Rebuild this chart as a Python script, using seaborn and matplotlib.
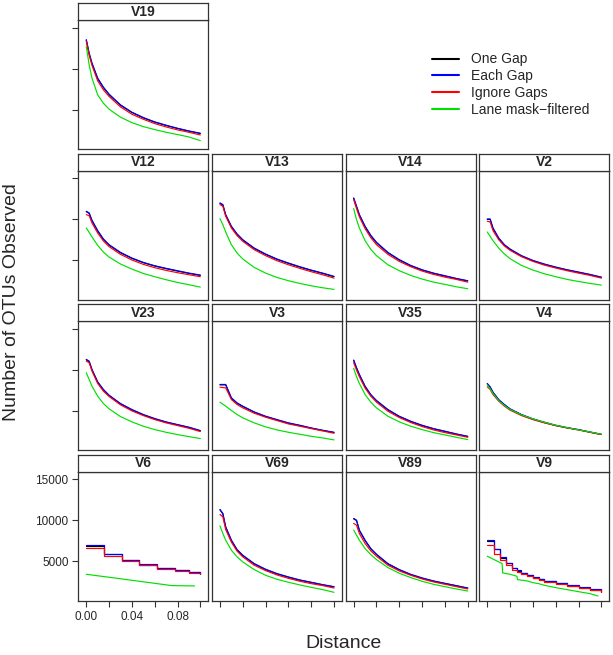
import numpy as np
import pandas as pd
import matplotlib
matplotlib.use("Agg")
import matplotlib.pyplot as plt
from matplotlib.lines import Line2D
import seaborn as sns

# ---- data ----
METHODS = ["One Gap", "Each Gap", "Ignore Gaps", "Lane mask\u2212filtered"]
COLORS = ["black", "#0000FF", "#FF0000", "#00E000"]

LAYOUT = [["V19"],
          ["V12", "V13", "V14", "V2"],
          ["V23", "V3", "V35", "V4"],
          ["V6", "V69", "V89", "V9"]]

DIST = [0.0, 0.0025, 0.005, 0.01, 0.015, 0.02, 0.03, 0.04, 0.05, 0.06, 0.07, 0.08, 0.09, 0.10]

ONE_GAP = {
    "V19": [13480, 11820, 10600, 8770, 7680, 6820, 5520, 4630, 3980, 3450, 3050, 2680, 2350, 2070],
    "V12": [10900, 10700, 9800, 8540, 7520, 6820, 5880, 5200, 4670, 4260, 3940, 3650, 3370, 3120],
    "V13": [11920, 11720, 10490, 9070, 8130, 7430, 6420, 5690, 5080, 4590, 4140, 3730, 3370, 2960],
    "V14": [12530, 11510, 10490, 9070, 7960, 7110, 5890, 5000, 4300, 3770, 3370, 3040, 2720, 2430],
    "V2": [9960, 9960, 8860, 7640, 6820, 6300, 5490, 4910, 4470, 4100, 3780, 3490, 3210, 2880],
    "V23": [11190, 10980, 9960, 8450, 7520, 6820, 5810, 5080, 4470, 3980, 3570, 3250, 2930, 2520],
    "V3": [8130, 8130, 8130, 6500, 5880, 5490, 4790, 4260, 3850, 3450, 3160, 2840, 2560, 2310],
    "V35": [11110, 10170, 9350, 7920, 6900, 6180, 5080, 4260, 3650, 3160, 2760, 2440, 2110, 1820],
    "V4": [8250, 7840, 7190, 6300, 5690, 5160, 4470, 3940, 3530, 3160, 2880, 2640, 2350, 2070],
    "V69": [11270, 10780, 9150, 7520, 6380, 5690, 4670, 3980, 3450, 3040, 2680, 2400, 2110, 1860],
    "V89": [10170, 9960, 8740, 7520, 6500, 5810, 4670, 3940, 3360, 2920, 2560, 2270, 1990, 1700],
    "V6": [6870, 5850, 5120, 4590, 4180, 3940, 3650, 3450],
    "V9": [7490, 6430, 5450, 4730, 4160, 3840, 3560, 3280, 3000, 2790, 2590, 2300, 2020, 1780, 1540, 1290],
}
EACH_GAP = {
    "V19": [13520, 11890, 10670, 8830, 7730, 6870, 5570, 4670, 4020, 3490, 3080, 2710, 2380, 2100],
    "V12": [10950, 10750, 9850, 8590, 7570, 6870, 5930, 5240, 4710, 4300, 3980, 3690, 3400, 3160],
    "V13": [11970, 11770, 10540, 9120, 8180, 7480, 6460, 5730, 5120, 4630, 4180, 3770, 3400, 3000],
    "V14": [12580, 11560, 10540, 9120, 8010, 7160, 5930, 5040, 4340, 3810, 3400, 3080, 2750, 2470],
    "V2": [10010, 10010, 8910, 7690, 6870, 6340, 5530, 4950, 4510, 4140, 3810, 3530, 3240, 2910],
    "V23": [11240, 11030, 10010, 8500, 7570, 6870, 5850, 5120, 4510, 4020, 3610, 3280, 2960, 2550],
    "V3": [8180, 8180, 8180, 6550, 5930, 5530, 4830, 4300, 3890, 3490, 3200, 2870, 2590, 2340],
    "V35": [11160, 10220, 9400, 7970, 6950, 6220, 5120, 4300, 3690, 3200, 2790, 2470, 2140, 1850],
    "V4": [8300, 7890, 7240, 6340, 5730, 5200, 4510, 3980, 3570, 3200, 2910, 2670, 2380, 2100],
    "V69": [11320, 10830, 9200, 7570, 6420, 5730, 4710, 4020, 3490, 3080, 2710, 2430, 2140, 1890],
    "V89": [10220, 10010, 8790, 7570, 6550, 5850, 4710, 3980, 3400, 2960, 2590, 2300, 2020, 1730],
    "V6": [6950, 5930, 5200, 4630, 4220, 3980, 3690, 3490],
    "V9": [7570, 6510, 5530, 4790, 4220, 3890, 3610, 3320, 3040, 2830, 2630, 2340, 2060, 1810, 1570, 1320],
}
IGNORE_GAPS = {
    "V19": [13320, 11650, 10380, 8500, 7400, 6590, 5320, 4420, 3810, 3280, 2870, 2510, 2220, 1890],
    "V12": [10540, 10420, 9520, 8300, 7320, 6630, 5690, 5000, 4470, 4060, 3730, 3450, 3200, 2960],
    "V13": [11770, 11560, 10340, 8910, 7970, 7280, 6260, 5530, 4910, 4420, 3980, 3570, 3200, 2790],
    "V14": [12380, 11280, 10260, 8830, 7730, 6870, 5690, 4830, 4180, 3650, 3240, 2910, 2630, 2300],
    "V2": [9730, 9650, 8590, 7480, 6710, 6180, 5400, 4830, 4380, 4020, 3690, 3400, 3120, 2790],
    "V23": [11030, 10830, 9810, 8300, 7360, 6710, 5690, 4950, 4380, 3890, 3490, 3160, 2830, 2430],
    "V3": [7850, 7800, 7770, 6340, 5730, 5320, 4670, 4180, 3770, 3360, 3080, 2790, 2510, 2220],
    "V35": [10830, 9930, 9120, 7730, 6750, 6020, 4910, 4140, 3530, 3040, 2630, 2300, 2020, 1730],
    "V4": [7890, 7570, 6950, 6140, 5530, 5040, 4380, 3890, 3490, 3160, 2870, 2630, 2340, 2060],
    "V69": [10710, 10420, 8870, 7320, 6220, 5530, 4510, 3850, 3320, 2910, 2550, 2260, 2020, 1730],
    "V89": [9610, 9400, 8380, 7160, 6260, 5610, 4510, 3810, 3280, 2830, 2470, 2180, 1890, 1610],
    "V6": [6590, 5690, 5040, 4510, 4100, 3850, 3610, 3400],
    "V9": [6950, 5930, 5120, 4510, 3980, 3690, 3400, 3160, 2910, 2710, 2510, 2220, 1940, 1690, 1450, 1200],
}
LANE_MASK = {
    "V19": [12700, 10460, 8830, 6790, 5770, 5040, 4060, 3400, 2910, 2550, 2220, 1940, 1650, 1200],
    "V12": [8910, 8380, 7810, 6790, 5970, 5360, 4510, 3890, 3360, 2960, 2590, 2260, 1980, 1690],
    "V13": [10050, 9320, 8420, 6870, 5850, 5120, 4100, 3400, 2870, 2470, 2140, 1850, 1610, 1410],
    "V14": [11280, 9930, 8910, 7360, 6300, 5530, 4420, 3690, 3120, 2670, 2300, 2020, 1730, 1490],
    "V2": [8420, 7890, 7360, 6460, 5730, 5160, 4340, 3770, 3320, 2960, 2630, 2380, 2140, 1940],
    "V23": [9610, 8790, 7970, 6750, 5850, 5200, 4260, 3610, 3080, 2670, 2340, 2060, 1810, 1570],
    "V3": [6020, 5770, 5530, 5000, 4510, 4100, 3490, 3000, 2630, 2340, 2100, 1850, 1650, 1410],
    "V35": [10140, 9120, 8300, 6950, 6020, 5320, 4300, 3610, 3080, 2670, 2300, 2020, 1730, 1450],
    "V4": [8140, 7650, 7080, 6220, 5610, 5120, 4470, 3980, 3570, 3200, 2910, 2630, 2380, 2100],
    "V69": [9320, 8380, 7570, 6340, 5530, 4910, 3980, 3280, 2790, 2430, 2100, 1810, 1530, 1200],
    "V89": [8790, 8180, 7570, 6550, 5810, 5200, 4220, 3530, 3000, 2550, 2180, 1890, 1610, 1360],
    "V6": [3400, 3040, 2670, 2300, 2020, 1980],
    "V9": [5610, 4710, 3570, 3400, 3160, 2750, 2590, 2380, 2260, 2060, 1770, 1530, 1280, 1040, 750],
}

# panels whose gap curves are drawn as steps, with their own distances
STEP_DIST = {
    "V6": [0.0, 0.0155, 0.031, 0.046, 0.062, 0.078, 0.090, 0.100],
    "V9": [0.0, 0.0056, 0.0109, 0.0168, 0.0218, 0.0262, 0.03, 0.035, 0.04, 0.045,
           0.05, 0.06, 0.07, 0.08, 0.09, 0.10],
}
LANE_DIST = {
    "V6": [0.0, 0.02, 0.04, 0.06, 0.075, 0.095],
    "V9": [0.0, 0.013, 0.0135, 0.02, 0.026, 0.0265, 0.035, 0.04, 0.045, 0.05,
           0.06, 0.07, 0.08, 0.09, 0.097],
}

Y_TICKS = [5000, 10000, 15000]
X_TICKS = [0.0, 0.02, 0.04, 0.06, 0.08, 0.10]


def build_frame():
    rows = []
    for method, table in zip(METHODS, [ONE_GAP, EACH_GAP, IGNORE_GAPS, LANE_MASK]):
        for panel, vals in table.items():
            if method == METHODS[3]:
                xs = LANE_DIST.get(panel, DIST)
            else:
                xs = STEP_DIST.get(panel, DIST)
            for x, v in zip(xs, vals):
                rows.append((panel, method, x, v))
    return pd.DataFrame(rows, columns=["panel", "method", "distance", "otus"])


def main():
    df = build_frame()
    sns.set_style("white")
    plt.rcParams["font.family"] = ["Liberation Sans", "DejaVu Sans"]

    W, H = 613, 655
    fig = plt.figure(figsize=(W / 100, H / 100), dpi=100)

    col_left = [78.3, 212.0, 345.7, 479.3]
    row_top = [20.0, 170.5, 321.0, 471.7]
    pw, ph, sh = 130.0, 129.3, 16.7
    edge = "#333333"
    pal = dict(zip(METHODS, COLORS))
    lw = 0.85

    for r, row in enumerate(LAYOUT):
        for c, panel in enumerate(row):
            x0, y0 = col_left[c], row_top[r]
            ax = fig.add_axes([x0 / W, 1 - (y0 + ph) / H, pw / W, ph / H])
            st = fig.add_axes([x0 / W, 1 - y0 / H, pw / W, sh / H])

            sub = df[df.panel == panel]
            if panel in STEP_DIST:
                gaps = sub[sub.method != METHODS[3]]
                sns.lineplot(data=gaps, x="distance", y="otus", hue="method",
                             hue_order=METHODS[:3], palette=pal, ax=ax, legend=False,
                             errorbar=None, lw=lw, drawstyle="steps-post")
                sns.lineplot(data=sub[sub.method == METHODS[3]], x="distance", y="otus",
                             color=COLORS[3], ax=ax, legend=False, errorbar=None, lw=lw)
            else:
                sns.lineplot(data=sub, x="distance", y="otus", hue="method",
                             hue_order=METHODS, palette=pal, ax=ax, legend=False,
                             errorbar=None, lw=lw)

            ax.set_xlim(-0.007, 0.107)
            ax.set_ylim(140, 15930)
            ax.set_xlabel("")
            ax.set_ylabel("")
            for s in ax.spines.values():
                s.set_color(edge)
                s.set_linewidth(0.9)
            ax.tick_params(direction="out", length=4, width=0.8, color=edge,
                           labelsize=8.5, pad=3)

            if c == 0:
                ax.set_yticks(Y_TICKS)
                if panel == "V6":
                    ax.set_yticklabels([str(t) for t in Y_TICKS])
                else:
                    ax.set_yticklabels([])
                ax.tick_params(axis="y", left=True)
            else:
                ax.set_yticks([])
            if r == len(LAYOUT) - 1:
                ax.set_xticks(X_TICKS)
                if panel == "V6":
                    ax.set_xticklabels(["0.00", "", "0.04", "", "0.08", ""])
                else:
                    ax.set_xticklabels([])
                ax.tick_params(axis="x", bottom=True)
            else:
                ax.set_xticks([])

            st.set_xticks([])
            st.set_yticks([])
            st.set_facecolor("white")
            for s in st.spines.values():
                s.set_color(edge)
                s.set_linewidth(0.9)
            st.text(0.5, 0.5, panel, ha="center", va="center", fontsize=10,
                    fontweight="bold", transform=st.transAxes)

    handles = [Line2D([0], [0], color=col, lw=1.5) for col in COLORS]
    fig.legend(handles, METHODS, loc="upper left",
               bbox_to_anchor=(431.7 / W, 1 - 52.5 / H), frameon=False,
               fontsize=10, handlelength=1.95, handletextpad=0.9,
               labelspacing=0.2, borderpad=0, borderaxespad=0)

    fig.text(12 / W, 1 - 302 / H, "Number of OTUs Observed", rotation=90,
             ha="center", va="center", fontsize=14)
    fig.text(343.7 / W, 1 - 643 / H, "Distance", ha="center", va="center", fontsize=14)

    fig.savefig("out.png", dpi=100)


if __name__ == "__main__":
    main()
